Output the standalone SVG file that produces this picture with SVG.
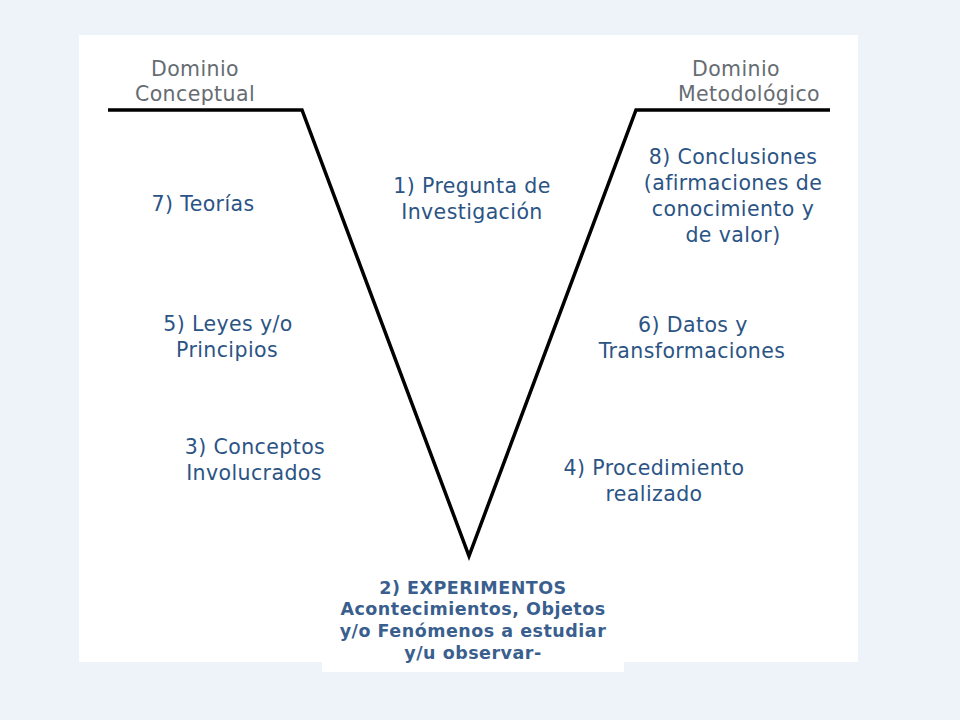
<svg xmlns="http://www.w3.org/2000/svg" width="960" height="720" viewBox="0 0 960 720">
<style>
.t{font-family:"DejaVu Sans",sans-serif;font-size:20.5px;letter-spacing:0.4px;fill:#2b5485;text-anchor:middle}
.h{font-family:"DejaVu Sans",sans-serif;font-size:20.5px;letter-spacing:0.4px;fill:#666c72;text-anchor:middle}
.b{font-family:"DejaVu Sans",sans-serif;font-weight:bold;font-size:17.5px;letter-spacing:0.5px;fill:#3a5f8e;text-anchor:middle}
</style>
<rect width="960" height="720" fill="#eef3f9"/>
<rect x="79" y="35" width="779" height="627" fill="#fff"/>
<rect x="322" y="640" width="302" height="32" fill="#fff"/>
<g id="v"><polyline points="108,110 302,110 469,556 636,110 830,110" fill="none" stroke="#000" stroke-width="3.5" stroke-linejoin="miter"/></g>
<g id="h1"><text class="h" x="195" y="76">Dominio</text><text class="h" x="195" y="101">Conceptual</text></g>
<g id="h2"><text class="h" x="736" y="76">Dominio</text><text class="h" x="749" y="101">Metodológico</text></g>
<g id="n7"><text class="t" x="203" y="211">7) Teorías</text></g>
<g id="n1"><text class="t" x="472" y="193">1) Pregunta de</text><text class="t" x="472" y="219">Investigación</text></g>
<g id="n8"><text class="t" x="733" y="164">8) Conclusiones</text><text class="t" x="733" y="190">(afirmaciones de</text><text class="t" x="733" y="216">conocimiento y</text><text class="t" x="733" y="242">de valor)</text></g>
<g id="n5"><text class="t" x="228" y="331">5) Leyes y/o</text><text class="t" x="227" y="357">Principios</text></g>
<g id="n6"><text class="t" x="693" y="332">6) Datos y</text><text class="t" x="692" y="358">Transformaciones</text></g>
<g id="n3"><text class="t" x="255" y="454">3) Conceptos</text><text class="t" x="254" y="480">Involucrados</text></g>
<g id="n4"><text class="t" x="654" y="475">4) Procedimiento</text><text class="t" x="654" y="501">realizado</text></g>
<g id="n2"><text class="b" x="473" y="594">2) EXPERIMENTOS</text><text class="b" x="473" y="615">Acontecimientos, Objetos</text><text class="b" x="473" y="637">y/o Fenómenos a estudiar</text><text class="b" x="473" y="659">y/u observar-</text></g>
</svg>
